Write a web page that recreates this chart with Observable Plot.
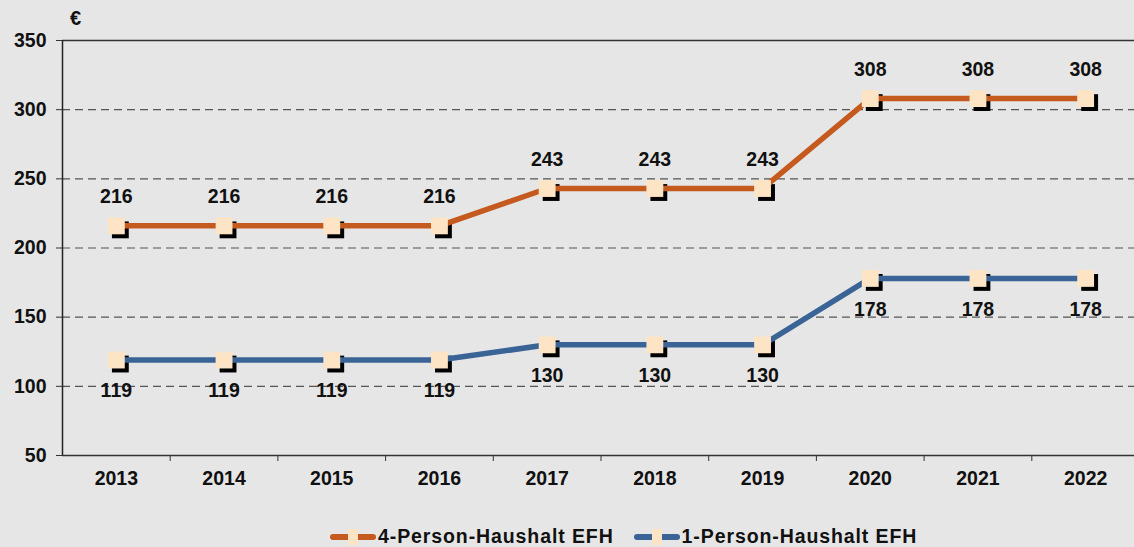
<!DOCTYPE html>
<html>
<head>
<meta charset="utf-8">
<script src="https://cdn.jsdelivr.net/npm/d3@7"></script>
<script src="https://cdn.jsdelivr.net/npm/@observablehq/plot@0.6"></script>
<style>
  html, body { margin: 0; padding: 0; background: #e6e6e6; overflow: hidden; width: 1134px; height: 547px; }
  #chart { position: relative; width: 1134px; height: 505px; overflow: hidden; }
  #legend { display: flex; justify-content: flex-start; gap: 20px; padding-left: 330px; margin-top: 20px;
    font-family: "Liberation Sans", Arial, sans-serif; font-weight: bold; font-size: 19.5px; letter-spacing: 0.9px; color: #111; }
  .item { display: flex; align-items: center; }
  .sw { position: relative; width: 46px; height: 16px; margin-right: 2px; }
  .sw .ln { position: absolute; left: 0; right: 0; top: 5px; height: 6px; border-radius: 3px; }
  .sw .mk { position: absolute; left: 18px; top: 0px; width: 10px; height: 16px; background: #fde4c5; }
  .euro { position: absolute; left: 70px; top: 7px; font-family: "Liberation Sans", Arial, sans-serif; font-weight: bold; font-size: 20px; color: #111; }
</style>
</head>
<body>
<div id="chart"><div class="euro">€</div></div>
<div id="legend"></div>
<script>
const years = [2013, 2014, 2015, 2016, 2017, 2018, 2019, 2020, 2021, 2022];
const fourPerson = [216, 216, 216, 216, 243, 243, 243, 308, 308, 308];
const onePerson = [119, 119, 119, 119, 130, 130, 130, 178, 178, 178];
const seriesNames = ["4-Person-Haushalt EFH", "1-Person-Haushalt EFH"];
const seriesColors = ["#c55a1e", "#3a6496"];
const yTicks = [50, 100, 150, 200, 250, 300, 350];
const gridTicks = [100, 150, 200, 250, 300];

const data = [];
years.forEach((y, i) => {
  data.push({year: y, value: fourPerson[i], series: seriesNames[0]});
  data.push({year: y, value: onePerson[i], series: seriesNames[1]});
});
const boundaries = years.slice(0, -1).map(y => y + 0.5);

const font = "Liberation Sans, Arial, sans-serif";
const fs = 19.5;

const plot = Plot.plot({
  width: 1134,
  height: 505,
  marginLeft: 62,
  marginRight: -5,
  marginTop: 40,
  marginBottom: 50,
  style: {background: "transparent", fontFamily: font, fontSize: fs + "px", fontWeight: "bold", color: "#111"},
  x: {type: "linear", domain: [years[0] - 0.5, years[years.length - 1] + 0.5]},
  y: {domain: [50, 350]},
  color: {domain: seriesNames, range: seriesColors},
  marks: [
    Plot.gridY(gridTicks, {stroke: "#555", strokeOpacity: 1, strokeWidth: 1.2, strokeDasharray: "8,5"}),
    Plot.ruleY([50, 350], {stroke: "#333", strokeWidth: 1.5}),
    Plot.ruleX([years[0] - 0.5], {stroke: "#222", strokeWidth: 1.5}),
    Plot.axisY(yTicks, {tickSize: 6, tickPadding: 10, tickFormat: d => String(d), label: null, fontSize: fs, fontWeight: "bold", stroke: "#333"}),
    Plot.axisX(years, {tickSize: 0, tickPadding: 16, tickFormat: d => String(d), label: null, fontSize: fs, fontWeight: "bold"}),
    Plot.axisX(boundaries, {tickSize: 6, tickFormat: () => "", label: null, stroke: "#333"}),
    Plot.dot(data, {x: "year", y: "value", symbol: "square", r: 9.5, fill: "#000", dx: 4, dy: 4}),
    Plot.line(data, {x: "year", y: "value", z: "series", stroke: "series", strokeWidth: 5.5}),
    Plot.dot(data, {x: "year", y: "value", symbol: "square", r: 9.5, fill: "#fde4c5"}),
    Plot.text(data.filter(d => d.series === seriesNames[0]), {x: "year", y: "value", text: d => String(d.value), dy: -29, fontSize: fs, fontWeight: "bold", fill: "#111"}),
    Plot.text(data.filter(d => d.series === seriesNames[1]), {x: "year", y: "value", text: d => String(d.value), dy: 31, fontSize: fs, fontWeight: "bold", fill: "#111"})
  ]
});
document.getElementById("chart").appendChild(plot);

const legend = document.getElementById("legend");
seriesNames.forEach((name, i) => {
  const item = document.createElement("div");
  item.className = "item";
  item.innerHTML = `<div class="sw"><div class="ln" style="background:${seriesColors[i]}"></div><div class="mk"></div></div><span>${name}</span>`;
  legend.appendChild(item);
});
</script>
</body>
</html>
